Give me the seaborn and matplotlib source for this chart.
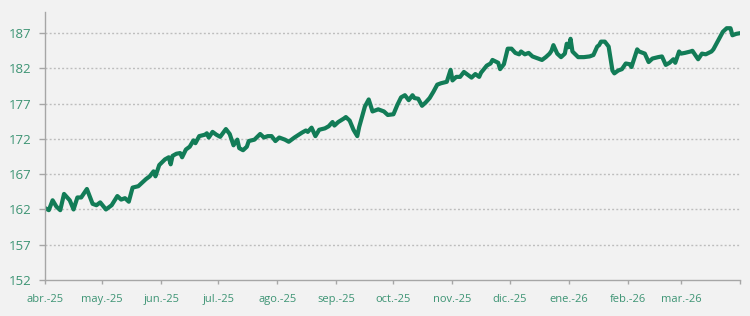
import matplotlib
matplotlib.use("Agg")
import matplotlib.pyplot as plt
import seaborn as sns
import pandas as pd

# Day offsets from 2025-04-01 and index values
day_offsets = [0, 2, 4, 6, 8, 10, 13, 15, 17, 19, 22, 25, 27, 29, 32, 35, 38, 40, 42, 44,
               46, 49, 51, 53, 55, 57, 58, 60, 63, 65, 66, 67, 69, 71, 72, 74, 76, 78, 79, 81,
               84, 85, 86, 88, 90, 92, 95, 97, 99, 101, 102, 104, 106, 107, 110, 113, 115, 117, 119, 121,
               123, 126, 128, 131, 135, 137, 138, 140, 142, 144, 147, 149, 151, 152, 154, 157, 158, 160, 162, 164,
               165, 168, 170, 172, 175, 178, 180, 183, 185, 187, 189, 191, 193, 194, 196, 198, 200, 202, 204, 206,
               208, 211, 213, 214, 216, 218, 220, 222, 224, 226, 228, 229, 232, 234, 235, 238, 239, 241, 243, 245,
               247, 249, 250, 252, 254, 256, 259, 261, 263, 265, 266, 267, 269, 271, 273, 274, 275, 276, 277, 280,
               283, 286, 288, 290, 291, 292, 294, 296, 298, 299, 301, 303, 305, 307, 308, 311, 312, 315, 317, 319,
               322, 324, 326, 328, 330, 331, 333, 334, 336, 339, 340, 343, 345, 347, 350, 351, 352, 354, 356, 358,
               360, 361, 363, 365]
index_values = [162.2, 161.9, 163.3, 162.4, 161.9, 164.2, 163.3, 162.0, 163.7, 163.7, 164.9, 162.8, 162.6, 163.0, 162.0, 162.6, 163.9, 163.4, 163.6, 163.1,
                165.1, 165.3, 165.8, 166.3, 166.7, 167.4, 166.7, 168.3, 169.1, 169.4, 168.4, 169.6, 169.9, 170.0, 169.4, 170.5, 170.9, 171.8, 171.4, 172.4,
                172.6, 172.8, 172.2, 173.0, 172.6, 172.3, 173.4, 172.7, 171.1, 171.9, 170.7, 170.4, 170.9, 171.7, 171.9, 172.7, 172.2, 172.4, 172.4, 171.7,
                172.2, 171.9, 171.6, 172.2, 172.9, 173.2, 173.0, 173.6, 172.4, 173.3, 173.5, 173.8, 174.4, 173.9, 174.4, 174.9, 175.1, 174.6, 173.3, 172.4,
                173.7, 176.6, 177.6, 175.9, 176.2, 175.9, 175.4, 175.5, 176.8, 177.9, 178.2, 177.5, 178.2, 177.8, 177.7, 176.7, 177.2, 177.8, 178.7, 179.7,
                179.9, 180.1, 181.8, 180.3, 180.8, 180.8, 181.5, 181.1, 180.7, 181.2, 180.8, 181.4, 182.4, 182.7, 183.2, 182.8, 181.9, 182.6, 184.8, 184.8,
                184.2, 184.0, 184.4, 184.0, 184.2, 183.7, 183.4, 183.2, 183.6, 184.1, 184.5, 185.3, 184.1, 183.6, 184.1, 185.5, 185.0, 186.2, 184.4, 183.6,
                183.6, 183.7, 183.9, 185.1, 185.3, 185.8, 185.8, 185.1, 181.7, 181.3, 181.7, 181.9, 182.7, 182.6, 182.2, 184.7, 184.4, 184.1, 182.9, 183.4,
                183.6, 183.7, 182.5, 182.8, 183.3, 182.8, 184.4, 184.1, 184.2, 184.4, 184.5, 183.3, 184.1, 184.0, 184.4, 184.7, 185.2, 186.2, 187.2, 187.7,
                187.7, 186.7, 186.9, 187.0]

tick_dates = ["2025-04-01", "2025-05-01", "2025-06-01", "2025-07-01", "2025-08-01", "2025-09-01",
              "2025-10-01", "2025-11-01", "2025-12-01", "2026-01-01", "2026-02-01", "2026-03-01", "2026-04-01"]
tick_labels = ["abr.-25", "may.-25", "jun.-25", "jul.-25", "ago.-25", "sep.-25", "oct.-25",
               "nov.-25", "dic.-25", "ene.-26", "feb.-26", "mar.-26", ""]
y_ticks = [152, 157, 162, 167, 172, 177, 182, 187]

start = pd.Timestamp("2025-04-01")
df = pd.DataFrame({
    "fecha": start + pd.to_timedelta(day_offsets, unit="D"),
    "valor": index_values,
})

sns.set_style("white")
plt.rcParams["font.family"] = ["Open Sans", "DejaVu Sans"]

bg = "#f2f2f2"
line_color = "#127c57"
label_color = "#3d9474"
axis_color = "#a6a6a6"

fig = plt.figure(figsize=(7.5, 3.16), dpi=100, facecolor=bg)
ax = fig.add_axes([0.06, 0.114, 0.9267, 0.848])
ax.set_facecolor(bg)

sns.lineplot(data=df, x="fecha", y="valor", ax=ax, color=line_color, linewidth=3.0)

ax.set_ylim(152, 190)
ax.set_xlim(pd.Timestamp("2025-04-01"), pd.Timestamp("2026-04-01"))
ax.set_yticks(y_ticks)
ax.set_yticklabels([str(v) for v in y_ticks])
ax.set_xticks(pd.to_datetime(tick_dates))
ax.set_xticklabels(tick_labels)
ax.set_xlabel("")
ax.set_ylabel("")

for yv in y_ticks[1:]:
    ax.axhline(yv, color="#bdbdbd", linewidth=1.0, linestyle=(0, (1.4, 1.6)), zorder=0)

for s in ["top", "right"]:
    ax.spines[s].set_visible(False)
for s in ["left", "bottom"]:
    ax.spines[s].set_color(axis_color)
    ax.spines[s].set_linewidth(1.0)

ax.tick_params(axis="y", length=4, width=1, color=axis_color, pad=6,
               labelsize=9.5, labelcolor=label_color, left=True)
ax.tick_params(axis="x", length=3, width=1, color=axis_color, pad=7,
               labelsize=8, labelcolor=label_color, bottom=True)

fig.savefig("out.png", dpi=100, facecolor=bg)
